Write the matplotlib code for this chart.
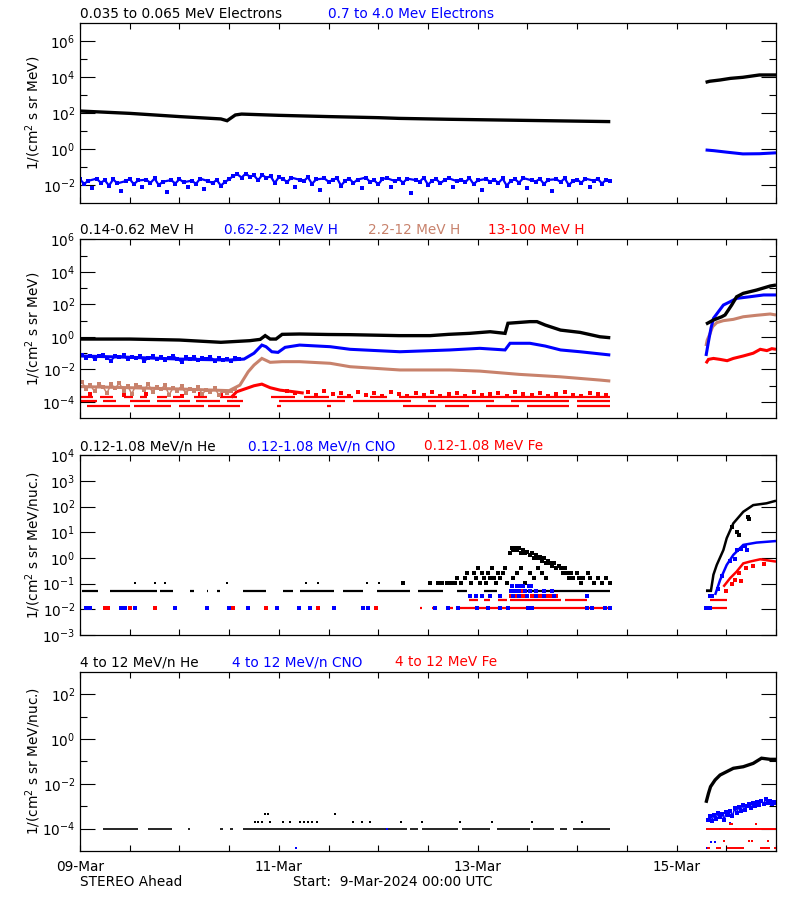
import numpy as np
import matplotlib
matplotlib.use("Agg")
import matplotlib.pyplot as plt
from matplotlib.ticker import FixedLocator, FixedFormatter, NullFormatter

plt.rcParams["font.family"] = ["DejaVu Sans"]
plt.rcParams["mathtext.default"] = "regular"
FS = 9.8
BLACK = "#000000"; BLUE = "#0000ff"; RED = "#ff0000"; BROWN = "#c8826c"

# time axis: hours since 9-Mar-2024 00:00 UTC
x_tick_hours = list(range(0, 169, 12))
x_tick_text = {0: "09-Mar", 48: "11-Mar", 96: "13-Mar", 144: "15-Mar"}

# ---------------- Panel 1: electrons (log10 flux) ----------------
e_lo_a_t = [0, 12, 24, 34, 35.5, 37.5, 39, 48, 60, 72, 77, 89, 101, 113, 125, 128]
e_lo_a_log = [2.11, 1.98, 1.80, 1.67, 1.57, 1.89, 1.94, 1.87, 1.80, 1.74, 1.70, 1.65, 1.61, 1.57, 1.53, 1.52]
e_lo_b_t = [151, 152, 154.5, 157, 160, 164, 168]
e_lo_b_log = [3.71, 3.77, 3.84, 3.93, 3.99, 4.12, 4.12]
e_hi_a_log = [  # hourly from 0 h
    -1.70, -1.95, -1.78, -2.20, -1.66, -1.88, -1.75, -2.05, -1.70, -1.92, -2.35, -1.80, -1.68, -1.97, -1.76, -2.15, -1.72, -1.90,
    -1.65, -2.02, -1.83, -2.40, -1.74, -1.93, -1.69, -1.86, -2.10, -1.77, -1.95, -1.66, -2.25, -1.80, -1.91, -1.73, -2.05, -1.84,
    -1.70, -1.50, -1.42, -1.60, -1.38, -1.55, -1.48, -1.75, -1.45, -1.62, -1.52, -1.90, -1.58,
    -1.68, -1.85, -1.60, -2.10, -1.72, -1.80, -1.58, -1.95, -1.70, -2.30, -1.65, -1.83, -1.74, -1.62, -2.05, -1.78, -1.66, -1.90, -1.71, -2.20,
    -1.60, -1.84, -1.75, -1.98, -1.68, -1.63, -2.15, -1.79, -1.70, -1.88, -1.66, -2.45, -1.74, -1.82, -1.61, -2.00, -1.77, -1.69, -1.92, -1.73,
    -1.64, -2.12, -1.80, -1.71, -1.86, -1.62, -1.97, -1.76, -2.28, -1.68, -1.83, -1.72, -1.90, -1.65, -2.05, -1.78, -1.70, -1.88, -1.63, -2.18,
    -1.75, -1.82, -1.67, -1.96, -1.73, -2.35, -1.69, -1.85, -1.64, -2.02, -1.79, -1.71, -1.89, -1.66, -2.10, -1.77, -1.68, -1.93, -1.72, -1.80]
e_hi_b_t = [151, 153, 156, 160, 164, 168]
e_hi_b_log = [-0.06, -0.10, -0.18, -0.28, -0.27, -0.22]

# ---------------- Panel 2: protons ----------------
h_lo_a_t = [0, 12, 24, 34, 41, 43.5, 44.7, 45.9, 47.3, 48.8, 53, 60, 65, 77, 84.5, 89, 94, 99, 102.6, 103.3, 108.6, 110.3, 112.3, 116, 120.7, 125.5, 128]
h_lo_a_log = [-0.13, -0.13, -0.19, -0.33, -0.23, -0.15, 0.08, -0.13, -0.13, 0.16, 0.18, 0.15, 0.14, 0.08, 0.08, 0.16, 0.22, 0.32, 0.22, 0.84, 0.94, 0.94, 0.73, 0.42, 0.28, 0.01, -0.05]
h_lo_b_t = [151.1, 152.9, 154.9, 155.7, 157.3, 158.5, 160.1, 163.3, 166.6, 168]
h_lo_b_log = [0.79, 1.04, 1.24, 1.35, 1.96, 2.47, 2.68, 2.88, 3.13, 3.19]

h_mid_a_t = [0, 12, 24, 36, 39.6, 42, 43.9, 44.9, 46.3, 47.8, 49.5, 53, 60.4, 65.2, 77.2, 89.3, 96.5, 102.6, 103.8, 108.6, 112.3, 116, 120.7, 128]
h_mid_a_log = [-1.17, -1.25, -1.36, -1.42, -1.36, -1.0, -0.5, -0.6, -0.91, -0.95, -0.64, -0.5, -0.6, -0.76, -0.91, -0.8, -0.7, -0.8, -0.39, -0.39, -0.56, -0.8, -0.91, -1.11]
h_mid_pre_log = [  # hourly scatter from 0.5 h
    -1.10, -1.28, -1.15, -1.35, -1.20, -1.12, -1.30, -1.45, -1.18, -1.25, -1.14, -1.38, -1.22, -1.30, -1.16, -1.50, -1.27, -1.20, -1.35, -1.24,
    -1.40, -1.28, -1.18, -1.33, -1.55, -1.26, -1.36, -1.22, -1.42, -1.30, -1.38, -1.25, -1.45, -1.32, -1.40, -1.35, -1.48, -1.30, -1.38]
h_mid_b_t = [151.1, 151.7, 152.3, 152.9, 154.1, 155.3, 156.9, 158.5, 161.7, 165, 168]
h_mid_b_log = [-1.17, -0.29, 0.53, 1.14, 1.55, 1.96, 2.16, 2.37, 2.47, 2.58, 2.58]

h_br_a_t = [0, 12, 24, 36, 38.6, 40.6, 42, 43.9, 45.9, 48.8, 53, 60.4, 65.2, 77.2, 89.3, 96.5, 106, 115.9, 125.5, 128]
h_br_a_log = [-3.05, -3.12, -3.20, -3.30, -2.96, -2.14, -1.73, -1.32, -1.56, -1.52, -1.52, -1.62, -1.83, -2.03, -2.03, -2.1, -2.3, -2.45, -2.65, -2.71]
h_br_pre_log = [  # hourly scatter from 0.5 h
    -2.80, -3.20, -2.95, -3.35, -2.88, -3.05, -3.45, -2.92, -3.15, -2.85, -3.30, -3.00, -3.50, -2.95, -3.10, -3.25, -2.90, -3.40, -3.05,
    -3.20, -2.98, -3.55, -3.12, -3.30, -3.02, -3.45, -3.18, -3.35, -3.08, -3.50, -3.25, -3.40, -3.15, -3.55, -3.30, -3.45, -3.35, -3.20]
h_br_b_t = [151.1, 151.4, 152.1, 152.7, 153.7, 155.3, 157.7, 160.1, 163.3, 166.6, 168]
h_br_b_log = [-0.56, -0.19, 0.22, 0.63, 0.88, 1.0, 1.08, 1.24, 1.33, 1.41, 1.35]

h_hi_a_t = [36.5, 37.8, 40.2, 42, 43.9, 45.9, 48.3, 51, 54]
h_hi_a_log = [-3.72, -3.37, -3.16, -3.0, -2.9, -3.12, -3.27, -3.35, -3.45]
h_hi_lvl1_log = -3.72
h_hi_lvl1_spans = [(0, 3.2), (4.8, 8), (10.5, 12.9), (14.5, 16.1), (18.5, 20.9), (22.5, 24.1), (27.4, 30.6), (33.8, 37.8),
                   (46, 52), (54, 60), (62, 66), (70, 74), (77, 128)]
h_hi_lvl2_log = -3.94
h_hi_lvl2_spans = [(0, 4), (5.6, 8.8), (12, 17), (18.5, 26.5), (28, 33.8), (35.4, 39.4), (48, 64), (66, 80), (84, 100), (104, 118), (120, 128)]
h_hi_lvl3_log = -4.25
h_hi_lvl3_spans = [(1.6, 12), (13, 22), (24, 30), (31, 38.6), (47.5, 48.5), (59.5, 60.5), (78, 86), (88, 94), (98, 106), (108, 118), (120, 128)]
h_hi_scat_t = [2.5, 10.5, 16, 24.5, 29, 34, 50, 52, 55, 57, 59, 61, 63, 65, 67, 69, 71, 73, 75, 77, 79, 81, 83, 85, 87, 89, 91, 93,
               95, 97, 99, 101, 103, 105, 107, 109, 111, 113, 115, 117, 119, 121, 123, 125, 127]
h_hi_scat_log = [-3.5, -3.55, -3.5, -3.6, -3.5, -3.55, -3.3, -3.45, -3.4, -3.55, -3.35, -3.5, -3.45, -3.6, -3.4, -3.55, -3.45, -3.6,
                 -3.4, -3.5, -3.6, -3.45, -3.55, -3.4, -3.6, -3.5, -3.45, -3.6, -3.4, -3.55, -3.5, -3.45, -3.6, -3.4, -3.5, -3.55,
                 -3.45, -3.6, -3.5, -3.4, -3.55, -3.6, -3.45, -3.5, -3.55]
h_hi_b_t = [151.1, 151.7, 152.9, 154.5, 156.2, 157.7, 160.1, 162.5, 164.2, 165.8, 167, 168]
h_hi_b_log = [-1.62, -1.38, -1.32, -1.38, -1.46, -1.32, -1.17, -1.0, -0.76, -0.84, -0.72, -0.76]

# ---------------- Panel 3: 0.12-1.08 MeV/n heavy ions ----------------
he_base_log = -1.29
he_base_spans = [(0.4, 4.4), (7.2, 18.5), (19.3, 22.5), (26.6, 27.4), (30.6, 31), (33, 33.8), (39.4, 45), (49.1, 51.5), (53.1, 61.2),
                 (63.6, 68.4), (71.6, 79.7), (81.6, 87.6), (90.9, 93.3), (97.4, 100.6), (103.8, 128), (151, 152.5)]
he_up_t = [13.3, 18.1, 20.5, 35.4, 54.6, 57.5, 69.2, 72.2]
he_up_log = [-0.96] * 8
he_evt_t = [78, 84.5, 86.5, 87.5, 88.5, 89.5, 90.5, 91, 92, 93, 93.5, 94.5, 95, 95.5, 96, 96.5, 97, 97.5, 98, 98.5, 99, 99.5, 100,
            100.5, 101, 101.5, 102, 102.5, 103,
            103.8, 104.2, 104.6, 105, 105.5, 106, 106.5, 107, 107.5, 108, 108.5, 109, 109.5, 110, 110.5, 111, 111.5, 112, 112.5, 113,
            113.5, 114, 114.5, 115, 115.5, 116, 116.5, 117, 117.5, 118, 118.5, 119, 120, 120.5, 121, 121.5, 122.5, 123, 124, 125,
            126, 127, 128,
            104.5, 105.5, 106.5, 107.5, 108.5, 109.5, 110.5, 111.5, 112.5]
he_evt_log = [-0.99, -0.99, -0.99, -0.99, -0.99, -0.99, -0.99, -0.79, -0.99, -0.79, -0.60, -0.99, -0.60, -0.79, -0.40, -0.99, -0.60,
              -0.79, -0.99, -0.60, -0.79, -0.40, -0.79, -0.99, -0.60, -0.79, -0.60, -0.40, -0.99,
              0.18, 0.38, 0.30, 0.38, 0.30, 0.38, 0.18, 0.30, 0.18, 0.25, 0.10, 0.18, 0.0, 0.10, -0.01, 0.05, -0.10, -0.01, -0.21, -0.10,
              -0.21, -0.30, -0.21, -0.40, -0.30, -0.40, -0.60, -0.40, -0.60, -0.79, -0.60, -0.79, -0.60, -0.79, -0.99, -0.79, -0.60,
              -0.79, -0.99, -0.79, -0.99, -0.79, -0.99,
              -0.79, -0.60, -0.40, -0.99, -0.60, -0.79, -0.40, -0.60, -0.79]
he_b_t = [151.1, 152.3, 152.9, 153.7, 155.3, 156.1, 157.7, 160.1, 162.5, 165.7, 168]
he_b_log = [-1.27, -1.27, -0.65, -0.27, 0.31, 0.77, 1.35, 1.8, 2.06, 2.13, 2.23]
he_b_scat_t = [157.4, 158.6, 159.0, 161.3, 161.6]
he_b_scat_log = [1.2, 1.0, 0.9, 1.6, 1.5]

low_base_log = -1.96
cno_base_t = [1.4, 2.4, 10, 10.9, 13.3, 22.9, 30.6, 36, 40.6, 47.5, 52.9, 55.5, 61.4, 68.4, 69.6, 85.7, 88.9, 91.3, 95.8, 98.6,
              101.4, 103.4, 108.2, 109, 122.3, 123.5, 126.7, 128, 151.2, 152]
cno_evt_t = [94.2, 95.5, 97, 99, 101.4, 104, 105, 106, 107.5, 108.5, 110, 112, 114, 104.2, 105.5, 106.2, 107, 108.3, 108.9,
             104.5, 106, 108, 110, 112, 114.5, 122.4, 152, 152.5]
cno_evt_log = [-1.47, -1.47, -1.47, -1.47, -1.47, -1.29, -1.29, -1.29, -1.29, -1.29, -1.29, -1.29, -1.29, -1.08, -1.08, -1.08,
               -1.08, -1.08, -1.08, -1.47, -1.47, -1.47, -1.47, -1.47, -1.47, -1.47, -1.47, -1.47]
cno_b_t = [153.3, 154.5, 156.1, 157.7, 160.1, 163.3, 168]
cno_b_log = [-1.44, -0.86, -0.27, 0.12, 0.51, 0.6, 0.66]
cno_b_scat_t = [154, 155, 156.8, 158.5, 159.5, 160.5, 158, 161]
cno_b_scat_log = [-1.2, -0.7, -0.1, 0.3, 0.35, 0.45, -0.05, 0.3]

fe_base_t = [6, 6.8, 12.1, 18.1, 37, 45, 57.5, 71.5]
fe_base_spans = [(82, 82.5), (85, 86), (88.5, 90.1), (90.9, 128), (151.3, 156.1)]
fe_lvl_log = -1.64
fe_lvl_spans = [(94, 96), (97.5, 99), (101, 103), (103.8, 116), (117, 122.3), (152.1, 156.1)]
fe_evt_t = [104, 105, 106, 107, 108, 109, 110, 111, 112, 113, 114, 115, 104.5, 105.5, 106.8, 107.5, 108.5]
fe_evt_log = [-1.47] * 12 + [-1.29] * 5
fe_b_t = [155.3, 156.9, 158.5, 160.1, 161.7, 164.2, 168]
fe_b_log = [-1.12, -0.79, -0.53, -0.21, -0.14, -0.05, -0.14]
fe_b_scat_t = [156, 157.3, 158, 159, 159.6, 160.8, 162.5, 165]
fe_b_scat_log = [-1.3, -1.0, -0.85, -0.6, -0.9, -0.4, -0.3, -0.25]

# ---------------- Panel 4: 4-12 MeV/n heavy ions ----------------
he4_base_log = -4.0
he4_base_spans = [(5.6, 14.1), (16.4, 22.2), (26, 26.6), (33.8, 34.5), (36.3, 37), (39.4, 77.2), (77.2, 78.9), (79.7, 81.7),
                  (82.5, 91.3), (92.1, 99), (100.6, 108.6), (109.4, 114.3), (115.9, 117.5), (119.1, 128)]
he4_up_t = [42.2, 43, 44, 45.9, 49.1, 50.7, 53.1, 54, 55, 56, 57.1, 66, 68, 70, 77.6, 82.5, 91.7, 99.4, 109, 121.1, 44.6, 45.4, 61.6]
he4_up_log = [-3.69] * 20 + [-3.35, -3.35, -3.35]
he4_b_t = [151.1, 151.7, 152.2, 153.3, 154.5, 156.1, 157.7, 160.1, 162.5, 164.5, 166.6, 168]
he4_b_log = [-2.85, -2.43, -2.13, -1.83, -1.61, -1.46, -1.31, -1.24, -1.09, -0.86, -0.91, -0.91]
cno4_a_t = [52.1, 74]
cno4_a_log = [-4.88, -4.0]
cno4_b_t = [151.5, 152, 152.5, 153, 153.5, 154, 154.5, 155, 155.5, 156, 156.5, 157, 157.5, 158, 158.5, 159, 159.5, 160, 160.5, 161,
            161.5, 162, 162.5, 163, 163.5, 164, 164.5, 165, 165.5, 166, 166.5, 167, 167.5, 168,
            151.3, 152.3, 153.2, 154.6, 158.3, 157]
cno4_b_log = [-3.6, -3.45, -3.65, -3.4, -3.55, -3.3, -3.5, -3.35, -3.6, -3.25, -3.4, -3.2, -3.45, -3.1, -3.3, -3.05, -3.2, -2.95,
              -3.15, -3.0, -2.9, -3.1, -2.85, -3.0, -2.8, -2.95, -2.75, -2.9, -2.7, -2.85, -2.75, -2.9, -2.8, -2.85,
              -4.88, -4.58, -4.58, -4.0, -4.0, -3.75]
fe4_base_spans = [(151, 168)]
fe4_low_log = -4.88
fe4_low_spans = [(151.3, 152.1), (153.5, 154.7), (156.2, 160.2), (164.2, 166.6), (167.5, 168)]
fe4_dot_t = [155.4, 161.4, 162.2, 166, 157, 157.5, 163.2]
fe4_dot_log = [-4.55, -4.55, -4.55, -4.55, -3.8, -3.8, -3.8]


# ---------------- drawing helpers ----------------
def v(logs):
    return 10.0 ** np.asarray(logs, dtype=float)


def line(ax, t, logs, color, lw=2.2):
    ax.plot(t, v(logs), color=color, lw=lw, solid_capstyle="butt", solid_joinstyle="miter")


def dots(ax, t, logs, color, ms=2.4):
    ax.plot(t, v(logs), ls="none", marker="s", ms=ms, mew=0, color=color)


def noisy(ax, t, logs, color, cut=None, lw=1.1, ms=2.2):
    """Dense noisy band: core points joined by a zigzag, outliers as isolated dots."""
    t = np.asarray(t, dtype=float)
    logs = np.asarray(logs, dtype=float)
    core = np.ones_like(logs, dtype=bool) if cut is None else logs >= cut
    ax.plot(t[core], v(logs[core]), color=color, lw=lw, marker="s", ms=ms, mew=0)
    if cut is not None:
        dots(ax, t[~core], logs[~core], color, ms=ms)


def spans(ax, sp, logv, color, lw=1.6):
    for a, b in sp:
        ax.hlines(10.0 ** logv, a, b, colors=color, lw=lw)


W, H = 800.0, 900.0
fig = plt.figure(figsize=(8, 9), dpi=100)

panels = [
    dict(top=23.3, bottom=202.7, ylim=(1e-3, 1e7), major=[-2, 0, 2, 4, 6], minor=[-1, 1, 3, 5],
         ylabel="1/(cm$^2$ s sr MeV)",
         titles=[(80, "0.035 to 0.065 MeV Electrons", BLACK), (328, "0.7 to 4.0 Mev Electrons", BLUE)]),
    dict(top=239.3, bottom=418.3, ylim=(1e-5, 1e6), major=[-4, -2, 0, 2, 4, 6], minor=[-3, -1, 1, 3, 5],
         ylabel="1/(cm$^2$ s sr MeV)",
         titles=[(80, "0.14-0.62 MeV H", BLACK), (224, "0.62-2.22 MeV H", BLUE), (368.5, "2.2-12 MeV H", BROWN),
                 (488, "13-100 MeV H", RED)]),
    dict(top=455.3, bottom=635.0, ylim=(1e-3, 1e4), major=[-3, -2, -1, 0, 1, 2, 3, 4], minor=[],
         ylabel="1/(cm$^2$ s sr MeV/nuc.)",
         titles=[(80, "0.12-1.08 MeV/n He", BLACK), (248.3, "0.12-1.08 MeV/n CNO", BLUE), (424, "0.12-1.08 MeV Fe", RED)]),
    dict(top=671.7, bottom=851.0, ylim=(1e-5, 1e3), major=[-4, -2, 0, 2], minor=[-3, -1, 1],
         ylabel="1/(cm$^2$ s sr MeV/nuc.)",
         titles=[(80, "4 to 12 MeV/n He", BLACK), (232.3, "4 to 12 MeV/n CNO", BLUE), (395, "4 to 12 MeV Fe", RED)]),
]

axes = []
for i, p in enumerate(panels):
    ax = fig.add_axes([80 / W, 1 - p["bottom"] / H, 696 / W, (p["bottom"] - p["top"]) / H])
    ax.set_yscale("log")
    ax.set_xlim(0, 168)
    ax.set_ylim(*p["ylim"])
    ax.yaxis.set_major_locator(FixedLocator([10.0 ** e for e in p["major"]]))
    ax.yaxis.set_major_formatter(FixedFormatter([r"$10^{%d}$" % e for e in p["major"]]))
    ax.yaxis.set_minor_locator(FixedLocator([10.0 ** e for e in p["minor"]]))
    ax.yaxis.set_minor_formatter(NullFormatter())
    ax.xaxis.set_major_locator(FixedLocator(x_tick_hours))
    if i == 3:
        ax.xaxis.set_major_formatter(FixedFormatter([x_tick_text.get(h, "") for h in x_tick_hours]))
    else:
        ax.xaxis.set_major_formatter(NullFormatter())
    ax.tick_params(axis="y", which="major", direction="in", length=10.8, width=0.8, left=True, right=True,
                   labelsize=FS, pad=3.5)
    ax.tick_params(axis="y", which="minor", direction="in", length=5.2, width=0.8, left=True, right=True)
    ax.tick_params(axis="x", which="major", direction="in", length=4.3, width=0.8, top=True, bottom=True,
                   labelsize=FS, pad=6.5)
    ax.tick_params(axis="x", which="minor", bottom=False, top=False)
    for s in ax.spines.values():
        s.set_linewidth(0.9)
    fig.text(33 / W, 1 - (p["top"] + p["bottom"]) / 2 / H, p["ylabel"], rotation=90, ha="center", va="center",
             fontsize=FS)
    for x, txt, c in p["titles"]:
        fig.text(x / W, 1 - (p["top"] - 5.2) / H, txt, color=c, fontsize=FS, ha="left", va="baseline")
    axes.append(ax)

ax1, ax2, ax3, ax4 = axes

# Panel 1
noisy(ax1, np.arange(len(e_hi_a_log)), e_hi_a_log, BLUE, cut=-2.06, lw=1.6, ms=2.4)
line(ax1, e_hi_b_t, e_hi_b_log, BLUE)
line(ax1, e_lo_a_t, e_lo_a_log, BLACK, lw=2.4)
line(ax1, e_lo_b_t, e_lo_b_log, BLACK, lw=2.4)

# Panel 2
spans(ax2, h_hi_lvl1_spans, h_hi_lvl1_log, RED)
spans(ax2, h_hi_lvl2_spans, h_hi_lvl2_log, RED)
spans(ax2, h_hi_lvl3_spans, h_hi_lvl3_log, RED)
dots(ax2, h_hi_scat_t, h_hi_scat_log, RED, ms=2.2)
line(ax2, h_hi_a_t, h_hi_a_log, RED)
line(ax2, h_hi_b_t, h_hi_b_log, RED)
noisy(ax2, np.arange(len(h_br_pre_log)) + 0.5, h_br_pre_log, BROWN, lw=1.1)
line(ax2, h_br_a_t, h_br_a_log, BROWN)
line(ax2, h_br_b_t, h_br_b_log, BROWN)
noisy(ax2, np.arange(len(h_mid_pre_log)) + 0.5, h_mid_pre_log, BLUE, lw=1.3)
line(ax2, h_mid_a_t, h_mid_a_log, BLUE)
line(ax2, h_mid_b_t, h_mid_b_log, BLUE)
line(ax2, h_lo_a_t, h_lo_a_log, BLACK, lw=2.4)
line(ax2, h_lo_b_t, h_lo_b_log, BLACK, lw=2.4)

# Panel 3
spans(ax3, he_base_spans, he_base_log, BLACK)
dots(ax3, he_up_t, he_up_log, BLACK, ms=2.0)
dots(ax3, he_evt_t, he_evt_log, BLACK, ms=2.2)
line(ax3, he_b_t, he_b_log, BLACK, lw=1.8)
dots(ax3, he_b_scat_t, he_b_scat_log, BLACK, ms=2.2)
spans(ax3, fe_base_spans, low_base_log, RED)
dots(ax3, fe_base_t, [low_base_log] * len(fe_base_t), RED, ms=2.2)
spans(ax3, fe_lvl_spans, fe_lvl_log, RED)
dots(ax3, fe_evt_t, fe_evt_log, RED, ms=2.2)
dots(ax3, cno_base_t, [low_base_log] * len(cno_base_t), BLUE, ms=2.2)
dots(ax3, cno_evt_t, cno_evt_log, BLUE, ms=2.2)
line(ax3, cno_b_t, cno_b_log, BLUE, lw=1.8)
dots(ax3, cno_b_scat_t, cno_b_scat_log, BLUE, ms=2.2)
line(ax3, fe_b_t, fe_b_log, RED, lw=1.8)
dots(ax3, fe_b_scat_t, fe_b_scat_log, RED, ms=2.2)

# Panel 4
spans(ax4, he4_base_spans, he4_base_log, BLACK, lw=1.2)
dots(ax4, he4_up_t, he4_up_log, BLACK, ms=2.0)
line(ax4, he4_b_t, he4_b_log, BLACK, lw=2.4)
dots(ax4, cno4_a_t, cno4_a_log, BLUE, ms=2.0)
noisy(ax4, cno4_b_t[:34], cno4_b_log[:34], BLUE, lw=1.1, ms=2.2)
dots(ax4, cno4_b_t[34:], cno4_b_log[34:], BLUE, ms=2.0)
spans(ax4, fe4_base_spans, he4_base_log, RED, lw=1.4)
spans(ax4, fe4_low_spans, fe4_low_log, RED, lw=1.4)
dots(ax4, fe4_dot_t, fe4_dot_log, RED, ms=2.0)

# footer
fig.text(80 / W, 1 - 886 / H, "STEREO Ahead", fontsize=FS, ha="left", va="baseline")
fig.text(293 / W, 1 - 886 / H, "Start:  9-Mar-2024 00:00 UTC", fontsize=FS, ha="left", va="baseline")

fig.savefig("out.png", dpi=100)
